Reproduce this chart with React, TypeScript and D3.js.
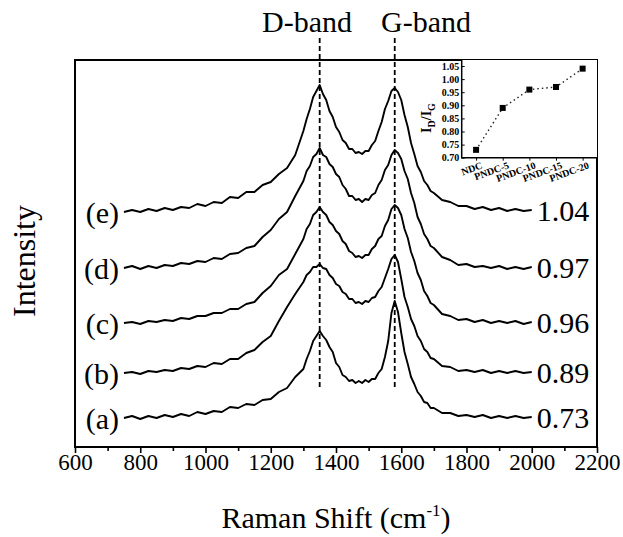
import { useEffect, useRef } from 'react';
import * as d3 from 'd3';

// Raman shift positions (cm^-1) shared by all spectra
const SHIFT = [
  750, 775, 800, 825, 850, 875, 900, 925, 950, 975, 1000, 1025, 1050, 1075, 1100, 1125, 1150, 1175, 1200, 1225, 1250, 1275, 1300,
  1310, 1320, 1330, 1340, 1350, 1360, 1370, 1380, 1390, 1400, 1410, 1420, 1430, 1440, 1450, 1460, 1470, 1480, 1490, 1500,
  1510, 1520, 1530, 1540, 1550, 1560, 1570, 1580, 1590, 1600, 1610, 1620, 1630, 1640, 1650, 1660, 1670, 1680, 1690, 1700,
  1725, 1750, 1775, 1800, 1825, 1850, 1875, 1900, 1925, 1950, 1975, 2000,
];

// stacked intensities (a.u., offset already included)
const SPEC_A = [
  29, 31, 28, 31, 29, 32, 30, 33, 31, 35, 33, 36, 35, 40, 39, 43, 42, 47, 48, 55, 59, 70, 78,
  88, 96, 106, 111, 116, 111, 107, 100, 95, 84, 80, 72, 70, 66, 67, 64, 66, 64, 67, 65,
  68, 68, 74, 78, 90, 106, 134, 146, 135, 114, 95, 83, 70, 63, 55, 51, 45, 44, 39, 39,
  34, 34, 31, 32, 30, 32, 29, 31, 29, 31, 29, 30,
];
const SPEC_B = [
  74, 75, 73, 76, 75, 77, 76, 79, 78, 81, 80, 84, 83, 88, 88, 94, 97, 105, 111, 126, 140, 153, 165,
  172, 175, 180, 180, 183, 179, 178, 172, 169, 163, 161, 155, 153, 148, 148, 144, 145, 143, 146, 145,
  149, 150, 156, 160, 169, 178, 188, 192, 185, 168, 150, 140, 128, 121, 111, 106, 98, 95, 89, 88,
  81, 80, 76, 77, 75, 77, 74, 76, 74, 76, 74, 75,
];
const SPEC_C = [
  124, 125, 123, 126, 125, 127, 126, 129, 128, 131, 131, 134, 134, 138, 138, 143, 145, 154, 161, 172, 178, 193, 208,
  218, 223, 232, 235, 240, 235, 232, 225, 222, 216, 213, 206, 203, 196, 194, 190, 191, 189, 192, 192,
  198, 201, 208, 211, 221, 227, 238, 242, 239, 232, 218, 209, 195, 186, 174, 167, 156, 151, 144, 142,
  133, 131, 127, 128, 125, 127, 124, 126, 124, 126, 123, 125,
];
const SPEC_D = [
  179, 181, 178, 181, 179, 182, 181, 184, 183, 186, 185, 189, 188, 193, 194, 199, 201, 210, 217, 228, 235, 251, 266,
  276, 281, 290, 293, 299, 292, 290, 283, 280, 273, 270, 262, 258, 251, 251, 247, 248, 245, 248, 247,
  252, 254, 262, 267, 277, 282, 292, 297, 294, 288, 276, 268, 254, 244, 230, 223, 213, 208, 201, 199,
  190, 187, 182, 183, 180, 181, 179, 181, 178, 180, 178, 180,
];
const SPEC_E = [
  235, 237, 235, 238, 236, 239, 237, 240, 239, 243, 241, 245, 244, 250, 249, 255, 255, 262, 265, 273, 279, 292, 316,
  328, 338, 350, 356, 362, 353, 347, 336, 330, 320, 315, 307, 304, 298, 298, 294, 295, 293, 296, 296,
  302, 306, 316, 325, 338, 346, 356, 359, 355, 347, 332, 320, 304, 293, 281, 275, 266, 262, 256, 254,
  247, 245, 241, 241, 238, 240, 237, 239, 236, 238, 236, 237,
];

const CURVE_LABELS = ['(a)', '(b)', '(c)', '(d)', '(e)'];
const RATIO_LABELS = ['0.73', '0.89', '0.96', '0.97', '1.04'];

const BAND_NAMES = ['D-band', 'G-band'];
const BAND_POS = [1350, 1580];

const X_MAJOR = [600, 800, 1000, 1200, 1400, 1600, 1800, 2000, 2200];
const X_MINOR = [700, 900, 1100, 1300, 1500, 1700, 1900, 2100];

// inset: ID/IG ratio per sample
const SAMPLES = ['NDC', 'PNDC-5', 'PNDC-10', 'PNDC-15', 'PNDC-20'];
const RATIOS = [0.73, 0.89, 0.96, 0.97, 1.04];
const INSET_TICKS = [0.7, 0.75, 0.8, 0.85, 0.9, 0.95, 1.0, 1.05];

const SERIF = "'Liberation Serif', 'Times New Roman', Times, serif";

export default function App() {
  const svgRef = useRef<SVGSVGElement>(null);

  useEffect(() => {
    if (!svgRef.current) return;
    const svg = d3.select(svgRef.current);
    svg.selectAll('*').remove();

    const left = 75, right = 597, top = 60, bottom = 447;

    const x = d3.scaleLinear().domain([600, 2200]).range([left, right]);
    const y = d3.scaleLinear().domain([0, 387]).range([bottom, top]);

    svg.append('rect').attr('width', 623).attr('height', 537).attr('fill', '#fff');

    // dashed band markers
    BAND_POS.forEach((b) => {
      svg
        .append('line')
        .attr('x1', x(b))
        .attr('x2', x(b))
        .attr('y1', 38)
        .attr('y2', 387)
        .attr('stroke', '#000')
        .attr('stroke-width', 1.8)
        .attr('stroke-dasharray', '5,3');
    });

    const bandLabelX = [307, 426];
    BAND_NAMES.forEach((name, i) => {
      svg
        .append('text')
        .attr('x', bandLabelX[i])
        .attr('y', 32)
        .attr('text-anchor', 'middle')
        .style('font-family', SERIF)
        .attr('font-size', 30)
        .text(name);
    });

    // spectra
    const spectra = [SPEC_A, SPEC_B, SPEC_C, SPEC_D, SPEC_E];
    const line = d3
      .line<number>()
      .x((_, i) => x(SHIFT[i]))
      .y((d) => y(d));

    spectra.forEach((s, i) => {
      svg
        .append('path')
        .attr('d', line(s))
        .attr('fill', 'none')
        .attr('stroke', '#000')
        .attr('stroke-width', 1.9)
        .attr('stroke-linejoin', 'round');

      svg
        .append('text')
        .attr('x', x(SHIFT[0]) - 5)
        .attr('y', y(s[0]))
        .attr('dy', '0.35em')
        .attr('text-anchor', 'end')
        .style('font-family', SERIF)
        .attr('font-size', 30)
        .text(CURVE_LABELS[i]);

      svg
        .append('text')
        .attr('x', x(SHIFT[SHIFT.length - 1]) + 5)
        .attr('y', y(s[s.length - 1]))
        .attr('dy', '0.35em')
        .attr('text-anchor', 'start')
        .style('font-family', SERIF)
        .attr('font-size', 30)
        .text(RATIO_LABELS[i]);
    });

    // frame
    svg
      .append('rect')
      .attr('x', left)
      .attr('y', top)
      .attr('width', right - left)
      .attr('height', bottom - top)
      .attr('fill', 'none')
      .attr('stroke', '#000')
      .attr('stroke-width', 2);

    // bottom axis
    const gx = svg
      .append('g')
      .attr('transform', `translate(0,${bottom})`)
      .call(d3.axisBottom(x).tickValues(X_MAJOR).tickSize(6).tickPadding(1).tickFormat(d3.format('d')));
    gx.select('.domain').remove();
    gx.attr('font-family', null);
    gx.selectAll('line').attr('stroke-width', 1.6);
    gx.selectAll('text').style('font-family', SERIF).attr('font-size', 23).attr('fill', '#000');

    const gxm = svg
      .append('g')
      .attr('transform', `translate(0,${bottom})`)
      .call(d3.axisBottom(x).tickValues(X_MINOR).tickSize(4).tickFormat(() => ''));
    gxm.select('.domain').remove();
    gxm.selectAll('line').attr('stroke-width', 1.6);

    // axis titles
    svg
      .append('text')
      .attr('transform', 'translate(35,261) rotate(-90)')
      .attr('text-anchor', 'middle')
      .style('font-family', SERIF)
      .attr('font-size', 32)
      .text('Intensity');

    const xt = svg
      .append('text')
      .attr('x', (left + right) / 2)
      .attr('y', 528)
      .attr('text-anchor', 'middle')
      .style('font-family', SERIF)
      .attr('font-size', 30);
    xt.append('tspan').text('Raman Shift (cm');
    xt.append('tspan').attr('dy', -12).attr('font-size', 17).text('-1');
    xt.append('tspan').attr('dy', 12).text(')');

    // inset
    const iL = 461.7, iR = right, iT = top, iB = 157.7;
    const ix = d3.scalePoint<string>().domain(SAMPLES).range([iL, iR]).padding(0.54);
    const iy = d3.scaleLinear().domain([0.7, 1.073]).range([iB, iT]);

    svg
      .append('rect')
      .attr('x', iL)
      .attr('y', iT)
      .attr('width', iR - iL)
      .attr('height', iB - iT)
      .attr('fill', '#fff');

    const giy = svg
      .append('g')
      .attr('transform', `translate(${iL},0)`)
      .call(d3.axisLeft(iy).tickValues(INSET_TICKS).tickSize(-3).tickPadding(2.5).tickFormat(d3.format('.2f')));
    giy.select('.domain').remove();
    giy.attr('font-family', null);
    giy.selectAll('text').style('font-family', SERIF).attr('font-size', 10).attr('font-weight', 'bold').attr('fill', '#000');

    const gix = svg
      .append('g')
      .attr('transform', `translate(0,${iB})`)
      .call(d3.axisBottom(ix).tickSize(3).tickFormat(() => ''));
    gix.select('.domain').remove();

    svg
      .append('path')
      .attr('d', `M${iL},${iT}V${iB}H${iR}`)
      .attr('fill', 'none')
      .attr('stroke', '#000')
      .attr('stroke-width', 1.5);

    SAMPLES.forEach((s) => {
      svg
        .append('text')
        .attr('transform', `translate(${(ix(s) ?? 0) + 7},168) rotate(-20)`)
        .attr('text-anchor', 'end')
        .style('font-family', SERIF)
        .attr('font-size', 10)
        .attr('font-weight', 'bold')
        .text(s);
    });

    const il = d3
      .line<number>()
      .x((_, i) => ix(SAMPLES[i]) ?? 0)
      .y((d) => iy(d));
    svg
      .append('path')
      .attr('d', il(RATIOS))
      .attr('fill', 'none')
      .attr('stroke', '#222')
      .attr('stroke-width', 1.4)
      .attr('stroke-dasharray', '1.5,3');

    svg
      .selectAll('rect.pt')
      .data(RATIOS)
      .join('rect')
      .attr('class', 'pt')
      .attr('x', (_, i) => (ix(SAMPLES[i]) ?? 0) - 3)
      .attr('y', (d) => iy(d) - 3)
      .attr('width', 6)
      .attr('height', 6)
      .attr('fill', '#000');

    const yl = svg
      .append('text')
      .attr('transform', 'translate(431,118) rotate(-90)')
      .attr('text-anchor', 'middle')
      .style('font-family', SERIF)
      .attr('font-size', 14)
      .attr('font-weight', 'bold');
    yl.append('tspan').text('I');
    yl.append('tspan').attr('dy', 4).attr('font-size', 10).text('D');
    yl.append('tspan').attr('dy', -4).text('/I');
    yl.append('tspan').attr('dy', 4).attr('font-size', 10).text('G');
  }, []);

  return (
    <svg
      ref={svgRef}
      width={623}
      height={537}
      style={{ position: 'absolute', left: 0, top: 0, display: 'block' }}
    />
  );
}
